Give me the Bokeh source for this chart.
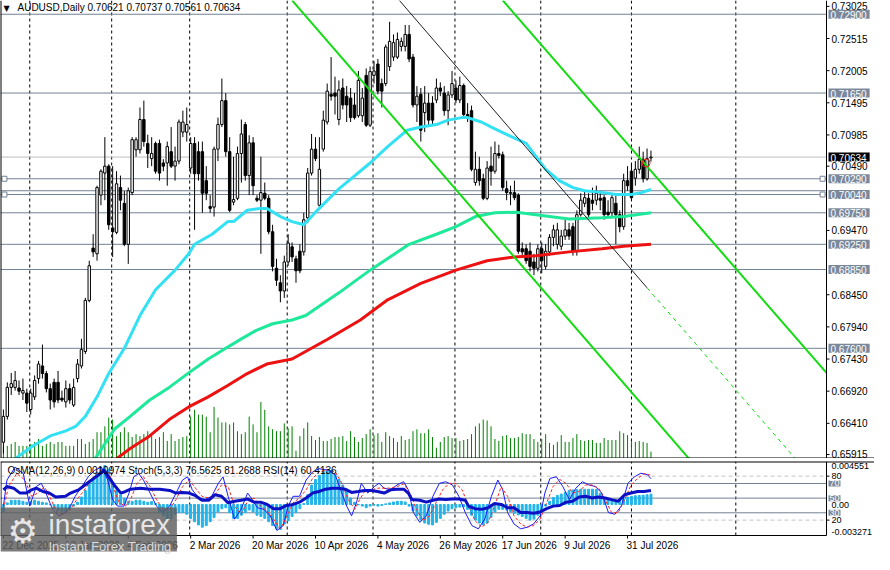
from bokeh.plotting import figure
from bokeh.models import Range1d, Label, Span
from bokeh.models import ColumnDataSource
from bokeh.layouts import column
from bokeh.embed import file_html
from bokeh.resources import INLINE
from bokeh.core.properties import value

# ---------------- data ----------------
date_tick_bars = [0, 16, 32, 48, 64, 80, 96, 112, 128, 144, 160]
date_labels = ["22 Dec 2025", "13 Jan 2026", "4 Feb 2026", "2 Mar 2026", "20 Mar 2026",
               "10 Apr 2026", "4 May 2026", "26 May 2026", "17 Jun 2026", "9 Jul 2026", "31 Jul 2026"]
separator_bars = [6.75, 27.75, 47.75, 72.75, 94.75, 115.75, 137.75, 161, 187.75]

opens = [0.6611, 0.6652, 0.6698, 0.6698, 0.6697, 0.6689, 0.6689, 0.6663, 0.6683, 0.6712,
         0.6732, 0.6720, 0.6696, 0.6706, 0.6706, 0.6681, 0.6675, 0.6696, 0.6670, 0.6712,
         0.6732, 0.6755, 0.6836, 0.6919, 0.6910, 0.7003, 0.7038, 0.7049, 0.6951, 0.6944,
         0.7015, 0.6990, 0.6925, 0.7007, 0.7075, 0.7075, 0.7123, 0.7085, 0.7061, 0.7085,
         0.7085, 0.7054, 0.7054, 0.7072, 0.7049, 0.7057, 0.7103, 0.7103, 0.7046, 0.7085,
         0.7072, 0.7072, 0.7026, 0.6985, 0.6984, 0.7076, 0.7115, 0.7153, 0.7072, 0.6992,
         0.6998, 0.7069, 0.7115, 0.7034, 0.7086, 0.6998, 0.6995, 0.7006, 0.6998, 0.6945,
         0.6887, 0.6864, 0.6851, 0.6897, 0.6921, 0.6902, 0.6914, 0.6913, 0.6967, 0.7038,
         0.7076, 0.6987, 0.7076, 0.7119, 0.7163, 0.7165, 0.7123, 0.7173, 0.7160, 0.7157,
         0.7146, 0.7129, 0.7129, 0.7193, 0.7114, 0.7193, 0.7211, 0.7180, 0.7180, 0.7207,
         0.7222, 0.7222, 0.7239, 0.7239, 0.7258, 0.7222, 0.7146, 0.7163, 0.7134, 0.7149,
         0.7149, 0.7154, 0.7173, 0.7165, 0.7137, 0.7162, 0.7173, 0.7154, 0.7177, 0.7131,
         0.7137, 0.7023, 0.7044, 0.7029, 0.6998, 0.7049, 0.7041, 0.7069, 0.7067, 0.7013,
         0.7007, 0.7007, 0.7003, 0.6918, 0.6918, 0.6914, 0.6897, 0.6887, 0.6918, 0.6890,
         0.6913, 0.6936, 0.6925, 0.6922, 0.6938, 0.6948, 0.6953, 0.6914, 0.6972, 0.6990,
         0.6998, 0.6995, 0.6995, 0.6998, 0.6999, 0.6976, 0.6975, 0.6990, 0.6972, 0.6953,
         0.7026, 0.7041, 0.7030, 0.7044, 0.7060, 0.7029, 0.70621]
highs = [0.6663, 0.6706, 0.6721, 0.6724, 0.6709, 0.6712, 0.6696, 0.6696, 0.6717, 0.6740,
         0.6766, 0.6724, 0.6704, 0.6712, 0.6724, 0.6693, 0.6709, 0.6704, 0.6712, 0.6743,
         0.6775, 0.6840, 0.6899, 0.6941, 0.7018, 0.7044, 0.7095, 0.7052, 0.7049, 0.7041,
         0.7034, 0.7010, 0.7015, 0.7095, 0.7095, 0.7142, 0.7153, 0.7099, 0.7095, 0.7088,
         0.7091, 0.7060, 0.7088, 0.7111, 0.7080, 0.7123, 0.7137, 0.7142, 0.7095, 0.7095,
         0.7088, 0.7088, 0.7049, 0.7003, 0.7080, 0.7126, 0.7188, 0.7165, 0.7095, 0.7064,
         0.7080, 0.7123, 0.7119, 0.7098, 0.7095, 0.7003, 0.7064, 0.7023, 0.7003, 0.6956,
         0.6902, 0.6876, 0.6907, 0.6941, 0.6928, 0.6907, 0.6925, 0.6975, 0.7046, 0.7100,
         0.7095, 0.7095, 0.7137, 0.7180, 0.7222, 0.7191, 0.7185, 0.7188, 0.7176, 0.7173,
         0.7165, 0.7200, 0.7173, 0.7204, 0.7207, 0.7216, 0.7219, 0.7188, 0.7242, 0.7278,
         0.7258, 0.7261, 0.7253, 0.7273, 0.7273, 0.7227, 0.7176, 0.7173, 0.7176, 0.7165,
         0.7160, 0.7188, 0.7182, 0.7176, 0.7168, 0.7200, 0.7185, 0.7191, 0.7180, 0.7149,
         0.7145, 0.7072, 0.7064, 0.7037, 0.7057, 0.7080, 0.7088, 0.7083, 0.7072, 0.7026,
         0.7018, 0.7026, 0.7006, 0.6928, 0.6925, 0.6928, 0.6910, 0.6925, 0.6928, 0.6925,
         0.6941, 0.6956, 0.6959, 0.6948, 0.6964, 0.6959, 0.6959, 0.6979, 0.7006, 0.7010,
         0.7006, 0.7015, 0.7018, 0.7010, 0.7003, 0.6995, 0.7006, 0.7003, 0.6979, 0.7037,
         0.7049, 0.7052, 0.7057, 0.7080, 0.7072, 0.7077, 0.70737]
lows = [0.6593, 0.6647, 0.6686, 0.6693, 0.6686, 0.6678, 0.6659, 0.6655, 0.6678, 0.6704,
        0.6712, 0.6690, 0.6663, 0.6666, 0.6673, 0.6675, 0.6666, 0.6672, 0.6667, 0.6706,
        0.6728, 0.6751, 0.6833, 0.6905, 0.6899, 0.6987, 0.6995, 0.6948, 0.6905, 0.6941,
        0.6979, 0.6922, 0.6894, 0.7003, 0.7064, 0.7069, 0.7080, 0.7046, 0.7049, 0.7037,
        0.7026, 0.7041, 0.7018, 0.7046, 0.7026, 0.7052, 0.7095, 0.7088, 0.7037, 0.6948,
        0.7026, 0.6975, 0.6995, 0.6975, 0.6969, 0.7057, 0.7111, 0.7064, 0.6976, 0.6987,
        0.6995, 0.7023, 0.7026, 0.7003, 0.7003, 0.6992, 0.6910, 0.6995, 0.6941, 0.6882,
        0.6859, 0.6833, 0.6840, 0.6891, 0.6897, 0.6864, 0.6879, 0.6907, 0.6959, 0.7034,
        0.7057, 0.6984, 0.7072, 0.7115, 0.7153, 0.7131, 0.7114, 0.7139, 0.7119, 0.7119,
        0.7123, 0.7126, 0.7119, 0.7111, 0.7111, 0.7180, 0.7163, 0.7142, 0.7176, 0.7200,
        0.7216, 0.7219, 0.7231, 0.7231, 0.7214, 0.7142, 0.7119, 0.7088, 0.7103, 0.7111,
        0.7114, 0.7149, 0.7160, 0.7129, 0.7114, 0.7157, 0.7149, 0.7149, 0.7126, 0.7119,
        0.7041, 0.7018, 0.7018, 0.6995, 0.6995, 0.7018, 0.7037, 0.7061, 0.7010, 0.6995,
        0.6987, 0.6995, 0.6910, 0.6907, 0.6894, 0.6882, 0.6876, 0.6882, 0.6879, 0.6885,
        0.6907, 0.6922, 0.6917, 0.6916, 0.6932, 0.6932, 0.6907, 0.6907, 0.6969, 0.6984,
        0.6967, 0.6979, 0.6987, 0.6979, 0.6964, 0.6969, 0.6969, 0.6925, 0.6944, 0.6948,
        0.7010, 0.6995, 0.7018, 0.7037, 0.7023, 0.7026, 0.70561]
closes = [0.6652, 0.6698, 0.6704, 0.6709, 0.6692, 0.6693, 0.6673, 0.6689, 0.6709, 0.6735,
          0.6720, 0.6696, 0.6678, 0.6675, 0.6678, 0.6678, 0.6696, 0.6678, 0.6698, 0.6735,
          0.6758, 0.6836, 0.6891, 0.6913, 0.7015, 0.7041, 0.7049, 0.6956, 0.6945, 0.7021,
          0.6995, 0.6925, 0.7010, 0.7091, 0.7091, 0.7123, 0.7088, 0.7069, 0.7069, 0.7041,
          0.7038, 0.7049, 0.7080, 0.7049, 0.7057, 0.7119, 0.7119, 0.7115, 0.7085, 0.7037,
          0.7037, 0.7006, 0.7006, 0.6982, 0.7076, 0.7115, 0.7153, 0.7072, 0.6979, 0.6996,
          0.7069, 0.7100, 0.7034, 0.7086, 0.7018, 0.6995, 0.7007, 0.6998, 0.6945, 0.6890,
          0.6868, 0.6851, 0.6897, 0.6927, 0.6905, 0.6883, 0.6883, 0.6964, 0.7038, 0.7076,
          0.7061, 0.7044, 0.7122, 0.7168, 0.7160, 0.7160, 0.7170, 0.7146, 0.7146, 0.7126,
          0.7126, 0.7185, 0.7157, 0.7114, 0.7199, 0.7200, 0.7168, 0.7168, 0.7238, 0.7247,
          0.7245, 0.7250, 0.7247, 0.7258, 0.7219, 0.7146, 0.7160, 0.7106, 0.7149, 0.7122,
          0.7122, 0.7173, 0.7168, 0.7137, 0.7162, 0.7180, 0.7154, 0.7177, 0.7131, 0.7126,
          0.7044, 0.7044, 0.7026, 0.6998, 0.7046, 0.7041, 0.7069, 0.7066, 0.7015, 0.7007,
          0.7006, 0.6999, 0.6914, 0.6913, 0.6899, 0.6890, 0.6887, 0.6918, 0.6899, 0.6914,
          0.6936, 0.6948, 0.6948, 0.6938, 0.6948, 0.6938, 0.6914, 0.6972, 0.6995, 0.6999,
          0.6972, 0.6990, 0.7006, 0.6995, 0.6972, 0.6972, 0.6999, 0.6972, 0.6953, 0.7026,
          0.7018, 0.6999, 0.7044, 0.7060, 0.7029, 0.7061, 0.70634]
# tick volume, thousands
volumes_k = [12, 13, 15, 17, 13, 13, 13, 15, 17, 20, 13, 15, 17, 15, 17, 17, 13, 13, 13, 20,
             20, 15, 17, 20, 27, 27, 33, 42, 40, 23, 27, 32, 27, 22, 25, 23, 25, 28, 23, 20,
             22, 27, 18, 25, 18, 20, 22, 23, 43, 50, 45, 45, 43, 27, 53, 42, 37, 37, 35, 37,
             28, 25, 27, 43, 35, 27, 58, 50, 33, 30, 28, 28, 36, 31, 33,
             8, 23, 31, 37, 23, 19, 22, 18, 18, 20, 22, 22, 23, 18, 28, 22, 17, 21, 25, 30,
             24, 26, 17, 27, 23, 21, 17, 23, 19, 20, 28, 30, 26, 26, 30, 22, 11, 17, 22, 23,
             21, 21, 18, 19, 20, 25, 33, 36, 40, 39, 33, 20, 18, 23, 24, 21, 21, 22, 26, 25,
             25, 20, 17, 20, 25, 16, 14, 17, 24, 17, 17, 21, 25, 19, 18, 19, 19, 16, 16, 21,
             19, 19, 19, 28, 26, 24, 18, 17, 18, 17, 16, 7]

ma_fast_bars = [3, 7.5, 12, 16, 18.5, 21, 24, 27, 31, 35, 39, 44, 47.5, 49, 53.5, 57.5, 59, 62.5, 66,
                67.5, 71, 74, 77, 80, 86, 94, 98.5, 103.5, 107, 111, 114, 117.5, 119, 122.5, 126,
                129.5, 134, 139, 142.5, 146, 149, 154, 157, 161, 163.5, 166]
ma_fast_vals = [0.6585, 0.6605, 0.6621, 0.6629, 0.6636, 0.6652, 0.6683, 0.6720, 0.6760, 0.6812,
                0.6853, 0.6884, 0.6910, 0.6925, 0.6941, 0.6961, 0.6961, 0.6979, 0.6982, 0.6982,
                0.6969, 0.6961, 0.6956, 0.6976, 0.7013, 0.7054, 0.7080, 0.7106, 0.7111, 0.7115,
                0.7122, 0.7126, 0.7126, 0.7119, 0.7108, 0.7098, 0.7085, 0.7044, 0.7026, 0.7015,
                0.7010, 0.7007, 0.7004, 0.7004, 0.7007, 0.7012]
ma_mid_bars = [23.5, 28.5, 32.5, 37.5, 42.5, 47.5, 52.5, 57, 61, 65, 69, 74, 77.5, 86, 94, 104,
               111, 116, 121, 126, 131.5, 136.5, 145, 153.5, 159, 166]
ma_mid_vals = [0.6585, 0.6632, 0.6652, 0.6678, 0.6698, 0.6721, 0.6743, 0.6760, 0.6775, 0.6789,
               0.6799, 0.6805, 0.6812, 0.6848, 0.6884, 0.6925, 0.6941, 0.6953, 0.6969, 0.6975,
               0.6976, 0.6972, 0.6965, 0.6967, 0.6969, 0.6975]
ma_slow_bars = [29, 32.5, 37.5, 42.5, 47.5, 52.5, 57.5, 62.5, 67.5, 74, 83, 91.5, 98.5, 107, 116,
                124, 131, 136.5, 145, 153.5, 159, 166]
ma_slow_vals = [0.6585, 0.6601, 0.6621, 0.6647, 0.6667, 0.6683, 0.6701, 0.6720, 0.6735, 0.6743,
                0.6774, 0.6805, 0.6837, 0.6863, 0.6884, 0.6899, 0.6905, 0.6907, 0.6913, 0.6918,
                0.6922, 0.6925]

# drawn objects
level_prices = [0.72900, 0.71650, 0.70290, 0.70100, 0.70040, 0.69750, 0.69250, 0.68850, 0.67600]
level_labels = [0.72900, 0.71650, 0.70290, 0.70040, 0.69750, 0.69250, 0.68850, 0.67600]
bid_price = 0.70634
channel_low_bars, channel_low_prices = [74, 175.75], [0.7312, 0.6585]
channel_up_bars, channel_up_prices = [128, 211], [0.7312, 0.6721]
trend_bars, trend_prices = [101.5, 165], [0.7312, 0.6856]
trend_ext_bars, trend_ext_prices = [165, 203], [0.6856, 0.6585]
anchor_bars = [0.25, 210, 0.25, 210]
anchor_prices = [0.70290, 0.70290, 0.70040, 0.70040]
alert_bars, alert_prices = [164.75], [0.7054]
price_ticks = [0.73025, 0.72515, 0.72005, 0.71495, 0.70985, 0.70490, 0.69470, 0.68450,
               0.67940, 0.67430, 0.66920, 0.66410]
price_tick_last = 0.65915

# indicator window
osma = [-0.00079, 0.00017, 0.00045, 0.00045, 0.00045, 0.00034, 0.00024, 0.00034, 0.00045, 0.00034,
        0.00024, 0.00017, -0.00002, -0.00045, -0.00069, -0.00086, -0.00079, -0.00051, -0.00017, 0.00024,
        0.00079, 0.00147, 0.00223, 0.00274, 0.00343, 0.00394, 0.00412, 0.00367, 0.00230, 0.00154,
        0.00103, 0.00069, 0.00034, 0.00031, 0.00045, 0.00045, 0.00034, 0.00024, 0.00031, 0.00010,
        -0.00086, -0.00120, -0.00154, -0.00147, -0.00103, -0.00086, -0.00086, -0.00103, -0.00147, -0.00182,
        -0.00216, -0.00240, -0.00223, -0.00182, -0.00137, -0.00079, -0.00045, -0.00034, -0.00086, -0.00147,
        -0.00147, -0.00113, -0.00086, -0.00058, -0.00079, -0.00113, -0.00127, -0.00147, -0.00182, -0.00223,
        -0.00257, -0.00264, -0.00206, -0.00172, -0.00127, -0.00086, -0.00045, 0.00010, 0.00103, 0.00206,
        0.00264, 0.00309, 0.00353, 0.00367, 0.00360, 0.00319, 0.00264, 0.00206, 0.00137, 0.00069,
        0.00024, -0.00003, -0.00017, -0.00034, -0.00017, -0.00007, -0.00017, -0.00010, 0.00007, 0.00017,
        0.00027, 0.00034, 0.00034, 0.00027, -0.00017, -0.00069, -0.00120, -0.00165, -0.00196, -0.00209,
        -0.00216, -0.00189, -0.00147, -0.00103, -0.00069, -0.00045, -0.00034, -0.00027, -0.00024, -0.00051,
        -0.00113, -0.00165, -0.00196, -0.00216, -0.00196, -0.00137, -0.00079, -0.00051, -0.00051, -0.00058,
        -0.00075, -0.00093, -0.00110, -0.00127, -0.00147, -0.00165, -0.00154, -0.00113, -0.00062, -0.00017,
        0.00034, 0.00075, 0.00096, 0.00110, 0.00127, 0.00147, 0.00154, 0.00158, 0.00161, 0.00161,
        0.00161, 0.00161, 0.00158, 0.00120, 0.00069, 0.00058, 0.00055, 0.00045, 0.00045, 0.00058,
        0.00079, 0.00086, 0.00093, 0.00096, 0.00099, 0.00103, 0.0010974]

rsi_bars = [0, 0.9, 2.6, 4.25, 5.9, 7.2, 8.4, 10.1, 11.75, 13.4, 15.9, 17.2, 19.25, 20.9, 22.6, 24.25,
            25.9, 27.2, 28.4, 30.1, 31.3, 32.6, 35.1, 37.6, 40.1, 42.6, 44.25, 45.9, 47.6, 49.25, 50.9,
            52.6, 54.25, 55.9, 57.6, 59.25, 60.9, 62.6, 64.25, 65.9, 67.6, 69.25, 70.9, 72.6, 74.25,
            75.9, 77.6, 79.25, 80.9, 82.6, 84.25, 85.9, 87.6, 89.25, 90.9, 92.6, 94.25, 95.9, 97.6,
            99.25, 100.9, 102.6, 103.8, 104.7, 106.75, 108.4, 110.1, 111.75, 113.4, 115.1, 116.75,
            118.4, 119.25, 120.9, 122.6, 124.25, 125.9, 127.6, 129.25, 130.9, 132.6, 134.25, 135.9,
            137.6, 139.25, 140.9, 142.6, 144.25, 145.9, 147.6, 149.25, 150.9, 152.6, 154.25, 155.9,
            157.6, 159.25, 160.9, 162.6, 164.25, 166]
rsi_vals = [61.3, 65.8, 63.6, 56.9, 56.9, 61.3, 63.6, 59.1, 56.9, 51.6, 52.5, 56.9, 61.3, 68, 74.7, 81.3,
            88, 76.9, 68, 56.9, 59.1, 62.2, 63.6, 62.2, 62.2, 60.5, 56.9, 57.8, 56.9, 53.3, 47.1,
            47.1, 54.7, 52.5, 43.6, 45.8, 47.1, 48.9, 44.5, 44.5, 41.4, 35.6, 35.6, 40, 41.4,
            44.5, 50.2, 56.9, 59.1, 62.2, 63.6, 63.6, 62.2, 57.8, 59.1, 60.5, 60.5, 59.1, 56.9,
            61.3, 62.2, 62.2, 56.9, 48, 47.1, 44.5, 47.1, 48.9, 48, 48.9, 48.9,
            47.1, 39.1, 35.6, 34.7, 36.9, 42.7, 41.4, 36.9, 36.9, 30.3, 30.3, 29.4,
            31.1, 35.6, 39.1, 40, 44.5, 45.8, 51.6, 52.5, 50.2, 51.6, 50.2, 48,
            45.8, 54.7, 56.9, 59.1, 59.1, 60.41]
stoch_bars = [0, 0.9, 3.0, 5.1, 6.75, 8.4, 9.7, 10.9, 12.6, 14.25, 15.9, 17.2, 18.4, 20.1, 21.75, 23.4,
              25.1, 26.75, 28, 29.25, 30.9, 32.2, 33.4, 34.7, 35.9, 37.6, 39.25, 40.9, 42.6, 44.25,
              45.9, 47.2, 48.4, 50.1, 51.75, 53.4, 55.1, 56.3, 57.6, 59.25, 60.9, 62.6, 63.8, 65.1,
              66.75, 68.4, 70.1, 71.75, 73, 74.25, 75.9, 77.6, 79.25, 80.9, 83.4, 85.1, 86.75, 88,
              89.25, 90.5, 91.75, 93.4, 95.1, 96.3, 97.6, 99.25, 100.9, 102.6, 103.8, 105.1, 106.75,
              108.4, 110.1, 111.75, 113.4, 115.1, 116.75, 118.4, 120.1, 121.75, 123.4, 125.1, 126.75,
              128, 129.25, 130.9, 132.6, 134.25, 135.9, 137.6, 138.8, 140.1, 141.75, 143.4, 145.1,
              146.75, 148.4, 150.1, 151.75, 153.4, 155.1, 156.75, 158.4, 160.1, 161.75, 163.4, 165.1, 166]
stoch_main = [39.1, 74.7, 92.4, 83.5, 39.1, 65.8, 70.2, 56.9, 34.7, 25.8, 30.3, 39.1, 52.5, 65.8, 79.1, 88,
              92.4, 74.7, 48, 39.1, 39.1, 56.9, 79.1, 83.5, 74.7, 56.9, 39.1, 30.3, 39.1, 56.9,
              74.7, 79.1, 61.3, 50.2, 48, 52.5, 70.2, 79.1, 52.5, 21.4, 34.7, 56.9, 48, 36.9,
              34.7, 25.8, 5.8, 12.5, 39.1, 52.5, 52.5, 74.7, 85.8, 90.2, 88, 81.3, 56.9, 39.1,
              25.8, 43.6, 70.2, 56.9, 65.8, 70.2, 63.6, 61.3, 68, 72.4, 61.3, 30.3, 16.9,
              25.8, 52.5, 70.2, 72.4, 68, 52.5, 30.3, 12.5, 8.1, 21.4, 52.5, 74.7,
              61.3, 30.3, 14.7, 8.1, 10.3, 14.7, 25.8, 56.9, 76.9, 79.1, 65.8, 48,
              63.6, 72.4, 68, 65.8, 56.9, 30.3, 28, 39.1, 70.2, 79.1, 84, 82, 76.56]
signal_bars = [0, 1.3, 3.4, 5.5, 7.2, 8.8, 10.5, 12.2, 13.8, 15.5, 17.2, 18.8, 20.5, 22.2, 23.8, 25.5,
               27.2, 28.4, 29.7, 31.3, 32.6, 34.25, 35.9, 37.6, 39.25, 40.9, 42.6, 44.25, 45.9, 47.6,
               49.25, 50.9, 52.6, 54.25, 55.9, 57.6, 59.25, 60.9, 62.6, 64.25, 65.9, 67.6, 69.25, 70.9,
               72.6, 74.25, 75.9, 77.6, 79.25, 80.9, 83.4, 85.1, 86.75, 88.4, 90.1, 91.3, 92.6, 94.25,
               95.9, 97.6, 99.25, 100.9, 102.6, 104.25, 105.9, 107.6, 109.25, 110.9, 112.6, 114.25,
               115.9, 117.6, 119.25, 120.9, 122.6, 124.25, 125.9, 127.6, 129.25, 130.9, 132.6, 134.25,
               135.9, 137.6, 139.25, 140.9, 142.6, 144.25, 145.9, 147.6, 149.25, 150.9, 152.6, 154.25,
               155.9, 157.6, 159.25, 160.9, 162.6, 164.25, 166]
stoch_signal = [34.7, 65.8, 83.5, 74.7, 52.5, 56.9, 65.8, 48, 30.3, 28, 34.7, 48, 59.1, 72.4, 83.5, 90.2,
                83.5, 61.3, 43.6, 39.1, 48, 70.2, 79.1, 65.8, 48, 34.7, 34.7, 48, 65.8, 74.7,
                63.6, 52.5, 50.2, 54.7, 68, 65.8, 39.1, 28, 45.8, 50.2, 39.1, 32.5, 21.4, 8.1,
                23.6, 43.6, 50.2, 61.3, 76.9, 85.8, 88.9, 85.8, 70.2, 48, 34.7, 48, 59.1, 61.3,
                63.6, 63.6, 63.6, 65.8, 69.3, 56.9, 34.7, 19.2, 25.8, 43.6, 61.3, 70.2,
                70.2, 61.3, 39.1, 19.2, 10.3, 16.9, 39.1, 65.8, 52.5, 25.8, 14.7, 10.3,
                12.5, 21.4, 43.6, 65.8, 75.5, 70.2, 56.9, 59.1, 68, 68, 63.6, 48,
                30.3, 30.3, 48, 68, 76.9, 83.5, 81.27]
osc_dashed_levels = [80, 20]
osc_solid_levels = [70, 50, 30]
osma_axis_top, osma_axis_bottom = 0.004551, -0.003271

# ---------------- layout constants (pixels) ----------------
FONT = "Liberation Sans"
W = 874
MAIN_H = 458
AXIS_PX = 826                  # x pixel of the price axis line
GAP = 3
PANEL_H = 74
DATE_H = 19
IND_H = GAP + PANEL_H + DATE_H
SLATE = "#738295"
BOXGRAY = "#7a8899"

X0 = -0.75
X_AXIS = 211.0
PX_PER_BAR = AXIS_PX / (X_AXIS - X0)
X_END = X0 + W / PX_PER_BAR
x_rng = Range1d(X0, X_END)

Y_TOP, Y_BOT = 0.73118, 0.65852
V_TOP, V_PB = 100.0, -1.0      # oscillator scale at panel top / bottom
V_PER_PX = (V_TOP - V_PB) / PANEL_H
V_MIN = V_PB - DATE_H * V_PER_PX
O_PER_V = (osma_axis_top - (-0.00328)) / (V_TOP - V_PB)
O_MIN = osma_axis_top - (V_TOP - V_MIN) * O_PER_V


def txt(fig, xs, ys, texts, size, color="black", align="left", baseline="middle",
        font=FONT, x_offset=0, y_offset=0, **kw):
    fig.text(x=xs, y=ys, text=texts, text_font=value(font), text_font_size=value(size),
             text_color=color, text_align=align, text_baseline=baseline,
             x_offset=x_offset, y_offset=y_offset, **kw)


def box_label(fig, x, y, text, size, bg, **kw):
    fig.add_layout(Label(x=x, y=y, x_offset=2, text=text, text_align="left",
                         text_baseline="middle", text_color="white", text_font=FONT,
                         text_font_size=size, background_fill_color=bg,
                         padding=dict(left=2, right=3, top=1, bottom=0), **kw))


# ---------------- main window ----------------
main = figure(width=W, height=MAIN_H, x_range=x_rng, y_range=Range1d(Y_BOT, Y_TOP),
              output_backend="svg", toolbar_location=None, x_axis_location=None,
              y_axis_location=None, min_border=0)
main.grid.visible = False
main.outline_line_color = None
main.background_fill_color = "white"
main.border_fill_color = "white"

for b in separator_bars:
    main.add_layout(Span(location=b, dimension="height", line_color="black", line_dash="3 3",
                         line_width=1, level="underlay"))
main.segment(x0=[X0] * len(level_prices), y0=level_prices, x1=[X_AXIS] * len(level_prices),
             y1=level_prices, line_color=SLATE, line_width=1)
main.segment(x0=[X0], y0=[bid_price], x1=[X_AXIS], y1=[bid_price], line_color="#bdbdbd",
             line_width=1)

main.extra_y_ranges = {"vol": Range1d(0, 470)}
idx = list(range(len(closes)))
main.segment(x0=idx, y0=[0] * len(idx), x1=idx, y1=volumes_k, y_range_name="vol",
             line_color="#008000", line_width=1)

src = ColumnDataSource(dict(
    i=idx, h=highs, l=lows,
    top=[max(o, c) for o, c in zip(opens, closes)],
    bot=[min(o, c) for o, c in zip(opens, closes)],
    fill=["white" if c >= o else "black" for o, c in zip(opens, closes)]))
main.segment(x0="i", y0="h", x1="i", y1="l", source=src, line_color="black", line_width=1)
main.vbar(x="i", width=0.62, top="top", bottom="bot", source=src, fill_color="fill",
          line_color="black", line_width=1)

main.line(ma_slow_bars, ma_slow_vals, line_color="#ee1111", line_width=3)
main.line(ma_mid_bars, ma_mid_vals, line_color="#1ee89a", line_width=3)
main.line(ma_fast_bars, ma_fast_vals, line_color="#33e1f4", line_width=3)

main.line(channel_low_bars, channel_low_prices, line_color="#11dd11", line_width=2)
main.line(channel_up_bars, channel_up_prices, line_color="#11dd11", line_width=2)
main.line(trend_bars, trend_prices, line_color="#202020", line_width=1)
main.line(trend_ext_bars, trend_ext_prices, line_color="#11dd11", line_width=1, line_dash="4 4")

main.scatter(anchor_bars, anchor_prices, marker="square", size=5, fill_color="white",
             line_color=SLATE, line_width=1)
main.scatter(alert_bars, alert_prices, marker="circle", size=8, fill_color=None,
             line_color="#ff2020", line_width=1)

# price scale (right)
main.add_layout(Span(location=X_AXIS, dimension="height", line_color="black", line_width=1))
main.add_layout(Span(location=X0, dimension="height", line_color="black", line_width=2))
main.add_layout(Span(location=Y_BOT, dimension="width", line_color="black", line_width=2))
all_ticks = price_ticks + [price_tick_last]
main.segment(x0=[X_AXIS] * len(all_ticks), y0=all_ticks, x1=[X_AXIS + 3 / PX_PER_BAR] * len(all_ticks),
             y1=all_ticks, line_color="black", line_width=1)
txt(main, [X_AXIS] * len(price_ticks), price_ticks, [f"{t:.5f}" for t in price_ticks], "10px",
    x_offset=5)
# lowest tick label sits on the window's bottom edge, so anchor it there
txt(main, [X_AXIS], [Y_BOT], [f"{price_tick_last:.5f}"], "10px", baseline="bottom",
    x_offset=5, y_offset=-1)
for pr in level_labels:
    box_label(main, X_AXIS, pr, f"{pr:.5f}", "10px", BOXGRAY)
box_label(main, X_AXIS, bid_price, f"{bid_price:.5f}", "10px", "black")

main.add_layout(Label(x=X0, y=Y_TOP, x_offset=3, y_offset=-3, text="▼", text_baseline="top",
                      text_font="DejaVu Sans", text_font_size="8px", text_color="black"))
main.add_layout(Label(x=X0, y=Y_TOP, x_offset=17, y_offset=-1,
                      text="AUDUSD,Daily  0.70621 0.70737 0.70561 0.70634", text_baseline="top",
                      text_font=FONT, text_font_size="10px", text_color="black"))

# ---------------- indicator window ----------------
ind = figure(width=W, height=IND_H, x_range=x_rng, y_range=Range1d(V_MIN, V_TOP),
             output_backend="svg", toolbar_location=None, x_axis_location=None,
             y_axis_location=None, min_border=0, min_border_top=GAP)
ind.grid.visible = False
ind.outline_line_color = None
ind.background_fill_color = "white"
ind.border_fill_color = "white"
ind.extra_y_ranges = {"osma": Range1d(O_MIN, osma_axis_top)}

nsep = len(separator_bars)
ind.segment(x0=separator_bars, y0=[V_PB] * nsep, x1=separator_bars, y1=[V_TOP] * nsep,
            line_color="black", line_dash="3 3", line_width=1)
ind.segment(x0=[X0] * 2, y0=osc_dashed_levels, x1=[X_AXIS] * 2, y1=osc_dashed_levels,
            line_color="#c4c4c4", line_dash="4 3", line_width=1)
ind.segment(x0=[X0] * 3, y0=osc_solid_levels, x1=[X_AXIS] * 3, y1=osc_solid_levels,
            line_color=SLATE, line_width=1)

ind.vbar(x=idx, top=osma, bottom=0, width=0.5, y_range_name="osma", fill_color="#22b4ea",
         line_color="#22b4ea")
ind.line(stoch_bars, stoch_main, line_color="#1a1aff", line_width=1)
ind.line(signal_bars, stoch_signal, line_color="#ff2020", line_width=1, line_dash="3 2")
ind.line(rsi_bars, rsi_vals, line_color="#0c12c4", line_width=3)

# panel frame lines
ind.add_layout(Span(location=V_TOP, dimension="width", line_color="black", line_width=2))
ind.segment(x0=[X0 + 0.5 / PX_PER_BAR, X_AXIS], y0=[V_PB, V_PB],
            x1=[X0 + 0.5 / PX_PER_BAR, X_AXIS], y1=[V_TOP, V_TOP], line_color="black", line_width=1)
ind.segment(x0=[X0], y0=[V_PB], x1=[X_AXIS], y1=[V_PB], line_color="black", line_width=1)

# oscillator scale (right)
ind.segment(x0=[X_AXIS] * 2, y0=osc_dashed_levels, x1=[X_AXIS + 3 / PX_PER_BAR] * 2,
            y1=osc_dashed_levels, line_color="black")
txt(ind, [X_AXIS] * 2, osc_dashed_levels, [str(v) for v in osc_dashed_levels], "9px", x_offset=5)
txt(ind, [X_AXIS], [V_TOP], [f"{osma_axis_top:.6f}"], "9px", baseline="top", x_offset=5, y_offset=1)
txt(ind, [X_AXIS], [0], ["0.00"], "9px", x_offset=5, y_range_name="osma")
txt(ind, [X_AXIS], [V_PB], [f"{osma_axis_bottom:.6f}"], "9px", baseline="bottom", x_offset=5,
    y_offset=-1)
for lv in osc_solid_levels:
    ind.add_layout(Label(x=X_AXIS, y=lv, x_offset=2, text=str(lv), text_align="left",
                         text_baseline="middle", text_color="white", text_font=FONT,
                         text_font_size="9px", background_fill_color=BOXGRAY,
                         padding=dict(left=1, right=1, top=0, bottom=0)))

# date scale (bottom)
nd = len(date_tick_bars)
ind.segment(x0=date_tick_bars, y0=[V_PB] * nd, x1=date_tick_bars, y1=[V_PB - 3 * V_PER_PX] * nd,
            line_color="black")
txt(ind, date_tick_bars, [V_PB - 10 * V_PER_PX] * nd, date_labels, "10px", x_offset=-1)

ind.add_layout(Label(x=X0, y=V_TOP, x_offset=7, y_offset=-3,
                     text="OsMA(12,26,9) 0.0010974  Stoch(5,3,3) 76.5625 81.2688  RSI(14) 60.4136",
                     text_baseline="top", text_font=FONT, text_font_size="10px", text_color="black"))

# watermark
ind.add_layout(Label(x=X0, y=V_PB, y_offset=6, text="instaforex", text_baseline="middle",
                     text_font=FONT, text_font_size="28px", text_color="#e6e6e6",
                     background_fill_color="#5e5e5e", background_fill_alpha=0.82,
                     padding=dict(left=48, right=7, top=1, bottom=12)))
ind.add_layout(Label(x=X0, y=V_PB, x_offset=48, y_offset=-11, text="Instant Forex Trading",
                     text_baseline="middle", text_font=FONT, text_font_size="13px",
                     text_color="#dadada"))
ind.add_layout(Label(x=X0, y=V_PB, x_offset=7, y_offset=5, text="⚙", text_baseline="middle",
                     text_font="DejaVu Sans", text_font_size="34px", text_color="#e6e6e6"))

layout = column(main, ind, spacing=0)
open("out.html", "w").write(file_html(layout, INLINE))
